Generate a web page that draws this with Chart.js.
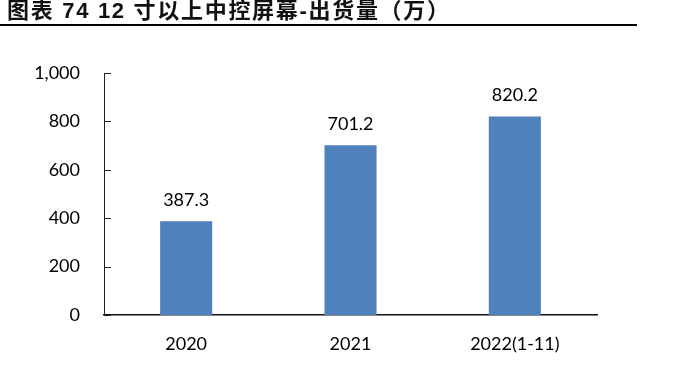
<!DOCTYPE html>
<html>
<head>
<meta charset="utf-8">
<script src="https://cdn.jsdelivr.net/npm/chart.js@4/dist/chart.umd.min.js"></script>
<style>
  html, body { margin: 0; padding: 0; background: #fff; }
  #wrap { width: 673px; height: 390px; position: relative; }
</style>
</head>
<body>
<div id="wrap"><canvas id="chart" width="673" height="390"></canvas></div>
<script>
const titleText = '图表 74 12 寸以上中控屏幕-出货量（万）'
const categories = ['2020', '2021', '2022(1-11)']
const shipments = [387.3, 701.2, 820.2]
const yTicks = [0, 200, 400, 600, 800, 1000]

const barColor = '#4F81BD'
const labelFont = '18px Lato, "Noto Sans", sans-serif'

// title + rule above the plot
const header = {
  id: 'header',
  afterDraw: (chart) => {
    const ctx = chart.ctx
    ctx.save()
    ctx.fillStyle = '#111'
    ctx.font = 'bold 22px "Liberation Sans", "Noto Sans CJK SC", sans-serif'
    ctx.letterSpacing = '1.7px'
    ctx.textBaseline = 'alphabetic'
    ctx.fillText(titleText, 7, 18)
    ctx.letterSpacing = '0px'
    ctx.fillStyle = '#000'
    ctx.fillRect(0, 24, 637, 2)
    ctx.restore()
  },
}

// short inward ticks on the value axis
const innerTicks = {
  id: 'innerTicks',
  afterDraw: (chart) => {
    const y = chart.scales.y
    const ctx = chart.ctx
    ctx.save()
    ctx.strokeStyle = '#222'
    ctx.lineWidth = 1
    y.ticks.forEach(t => {
      const py = Math.round(y.getPixelForValue(t.value)) + 0.5
      ctx.beginPath()
      ctx.moveTo(y.right, py)
      ctx.lineTo(y.right + 7, py)
      ctx.stroke()
    })
    ctx.restore()
  },
}

const valueLabels = {
  id: 'valueLabels',
  afterDatasetsDraw: (chart) => {
    const ctx = chart.ctx
    const meta = chart.getDatasetMeta(0)
    ctx.save()
    ctx.fillStyle = '#000'
    ctx.font = labelFont
    ctx.textAlign = 'center'
    ctx.textBaseline = 'middle'
    meta.data.forEach((bar, i) => {
      ctx.fillText(shipments[i].toFixed(1), bar.x, bar.y - 21)
    })
    ctx.restore()
  },
}

new Chart(document.getElementById('chart'), {
  type: 'bar',
  data: {
    labels: categories,
    datasets: [{
      data: shipments,
      backgroundColor: barColor,
      categoryPercentage: 1,
      barPercentage: 0.317,
    }],
  },
  options: {
    responsive: false,
    animation: false,
    layout: { padding: { top: 73, right: 76, left: 0, bottom: 0 } },
    plugins: { legend: { display: false }, tooltip: { enabled: false } },
    scales: {
      x: {
        grid: { display: false, drawTicks: false },
        border: { color: '#111', width: 1.5 },
        ticks: { color: '#000', font: { family: 'Lato', size: 18 }, padding: 18, maxRotation: 0 },
        afterFit: s => { s.height = 75 },
      },
      y: {
        min: 0,
        max: 1000,
        afterBuildTicks: s => { s.ticks = yTicks.map(v => ({ value: v })) },
        grid: { display: false, drawTicks: false },
        border: { color: '#222', width: 1 },
        ticks: {
          color: '#000',
          font: { family: 'Lato', size: 18 },
          padding: 24,
          callback: v => v.toLocaleString('en-US'),
        },
        afterFit: s => { s.width = 104 },
      },
    },
  },
  plugins: [header, innerTicks, valueLabels],
})
</script>
</body>
</html>
